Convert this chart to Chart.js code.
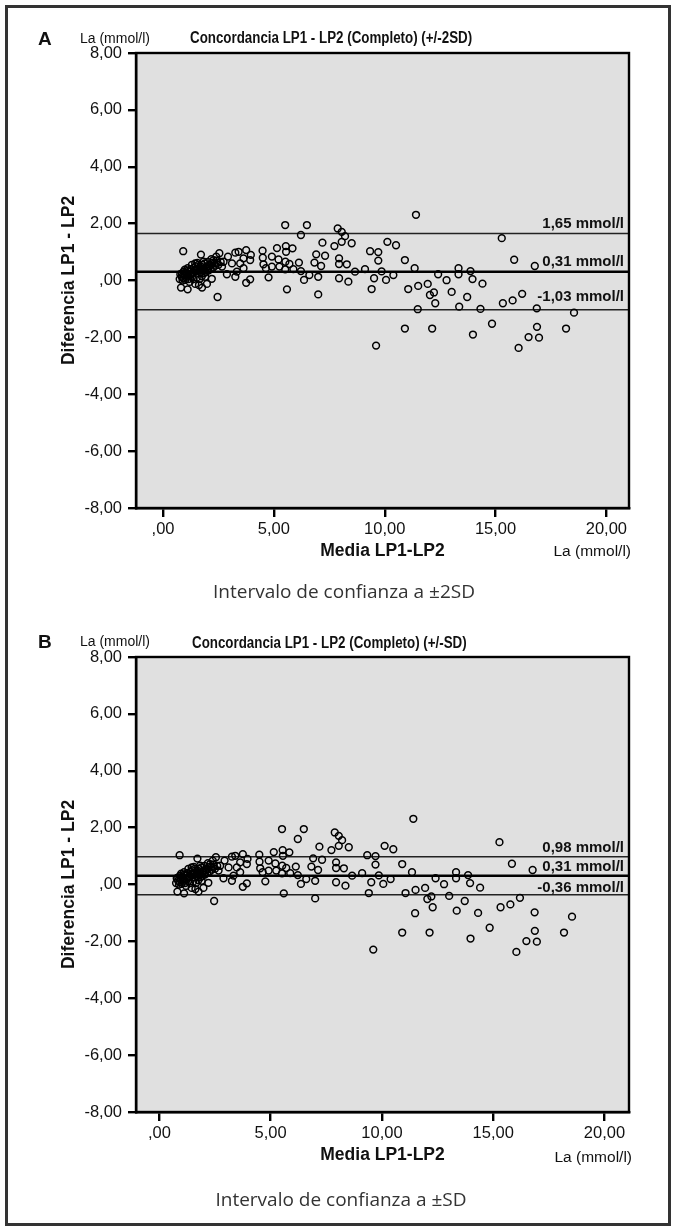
<!DOCTYPE html>
<html>
<head>
<meta charset="utf-8">
<script src="https://cdn.jsdelivr.net/npm/chart.js@4.4.1/dist/chart.umd.min.js"></script>
<style>
html,body{margin:0;padding:0;background:#fff;}
body{width:678px;height:1230px;position:relative;overflow:hidden;font-family:'Liberation Sans',Arial,sans-serif;color:#111;}
.frame{position:absolute;left:5px;top:5px;width:660px;height:1215px;border:3px solid #333;}
canvas{position:absolute;left:0;}
.t{position:absolute;white-space:nowrap;line-height:1;}
.ttl{font-size:16px;font-weight:bold;transform:scaleX(0.834);transform-origin:0 50%;}
.cap{font-family:'Open Sans',sans-serif;font-size:19px;color:#333;transform:translateX(-50%);}
</style>
</head>
<body>
<div class="frame"></div>
<canvas id="cA" width="678" height="600" style="top:0;width:678px;height:600px"></canvas>
<canvas id="cB" width="678" height="600" style="top:604px;width:678px;height:600px"></canvas>

<div class="t" style="left:38px;top:29px;font-weight:bold;font-size:19px">A</div>
<div class="t" style="left:80px;top:31px;font-size:14px">La (mmol/l)</div>
<div class="t ttl" style="left:190px;top:30px">Concordancia LP1 - LP2 (Completo) (+/-2SD)</div>
<div class="t" style="right:47px;top:543px;font-size:15.5px">La (mmol/l)</div>
<div class="t cap" style="left:344px;top:582px">Intervalo de confianza a ±2SD</div>

<div class="t" style="left:38px;top:632px;font-weight:bold;font-size:19px">B</div>
<div class="t" style="left:80px;top:634px;font-size:14px">La (mmol/l)</div>
<div class="t ttl" style="left:192px;top:635px">Concordancia LP1 - LP2 (Completo) (+/-SD)</div>
<div class="t" style="right:46px;top:1149px;font-size:15.5px">La (mmol/l)</div>
<div class="t cap" style="left:341px;top:1190px">Intervalo de confianza a ±SD</div>

<script>
// ---- data ----
const mediaLP1LP2 = [
0.91,0.81,1.11,0.84,0.93,1.11,1.00,1.23,1.45,1.45,
1.71,1.76,1.62,1.68,1.83,1.98,2.20,1.90,1.98,2.28,
2.40,2.54,2.46,2.66,2.73,2.88,2.93,3.11,3.26,3.41,
3.26,3.33,3.48,3.63,3.75,3.96,3.93,3.75,3.93,3.63,
0.75,0.78,0.88,0.95,1.02,1.05,1.15,1.18,1.25,1.30,
1.35,1.40,1.50,1.52,1.58,1.62,1.70,1.75,1.80,1.88,
1.92,2.02,2.05,2.12,2.18,2.25,2.32,2.42,2.50,2.60,
1.30,1.55,0.98,1.20,1.65,
0.85,0.92,1.08,1.12,1.28,1.38,1.42,1.48,1.60,1.72,
1.78,1.85,1.95,2.08,2.15,2.22,2.35,2.45,
4.49,4.50,4.53,4.64,4.76,4.91,4.91,5.14,5.21,5.25,
5.51,5.54,5.55,5.52,5.51,5.59,5.70,5.84,5.88,6.13,
6.22,6.22,6.36,6.49,6.60,6.83,6.91,7.00,7.00,7.13,
7.19,7.31,7.73,7.88,8.06,8.21,8.06,7.94,7.94,8.29,
7.94,8.36,8.51,8.66,9.11,9.34,9.71,9.71,9.86,9.52,
9.41,10.06,10.12,
11.41,10.51,10.39,10.91,11.35,11.06,11.51,11.94,12.04,12.22,
12.28,11.49,12.41,12.79,13.02,13.33,13.33,13.36,13.72,13.87,
13.96,14.41,14.32,15.28,15.84,16.77,15.33,15.77,16.20,16.86,
18.54,9.61,10.91,12.14,13.98,14.84,16.87,16.49,16.96,16.04,
18.18
];
const diferenciaLP1LP2 = [
1.03,-0.25,-0.31,0.13,0.31,0.43,0.02,0.19,-0.12,0.60,
0.91,-0.25,-0.16,0.37,0.66,-0.12,0.06,0.13,0.49,0.72,
0.84,0.96,-0.58,0.49,0.66,0.22,0.84,0.60,0.98,1.01,
0.13,0.31,0.60,0.78,1.07,0.90,0.72,-0.08,0.04,0.43,
0.05,0.22,0.00,0.18,0.28,0.10,0.05,0.30,0.40,0.12,
0.28,0.45,0.35,0.10,0.55,0.25,0.50,0.15,0.40,0.60,
0.30,0.65,0.35,0.55,0.75,0.45,0.60,0.70,0.55,0.65,
0.55,0.62,0.38,-0.05,0.05,
0.25,0.08,0.20,0.35,0.25,0.05,0.35,0.50,0.42,0.30,
0.55,0.25,0.45,0.50,0.40,0.62,0.52,0.62,
1.05,0.80,0.57,0.43,0.11,0.84,0.49,1.14,0.74,0.49,
1.95,1.21,1.01,0.66,0.39,-0.31,0.58,1.13,0.40,0.63,
1.60,0.33,0.02,1.95,0.19,0.63,0.92,0.13,-0.49,0.51,
1.33,0.87,1.21,1.83,1.71,1.56,1.36,0.78,0.58,0.57,
0.08,-0.04,1.31,0.31,0.40,1.03,1.00,0.70,0.32,0.08,
-0.30,0.02,1.36,
2.31,1.24,0.19,0.72,0.43,-0.30,-0.19,-0.12,-0.51,-0.42,
-0.80,-1.01,0.22,0.01,-0.40,0.43,0.22,-0.92,-0.58,0.33,
0.05,-0.11,-1.00,1.49,0.73,0.51,-0.80,-0.70,-0.47,-0.98,
-1.13,-2.29,-1.69,-1.69,-1.90,-1.52,-1.63,-1.99,-2.01,-2.37,
-1.69
];
const xTicks = [0, 5, 10, 15, 20];
const xTickLabels = [',00', '5,00', '10,00', '15,00', '20,00'];
const yTicks = [-8, -6, -4, -2, 0, 2, 4, 6, 8];
const yTickLabels = ['-8,00', '-6,00', '-4,00', '-2,00', ',00', '2,00', '4,00', '6,00', '8,00'];
const linesA = [1.65, 0.31, -1.03];
const linesALabels = ['1,65 mmol/l', '0,31 mmol/l', '-1,03 mmol/l'];
const linesB = [0.98, 0.31, -0.36];
const linesBLabels = ['0,98 mmol/l', '0,31 mmol/l', '-0,36 mmol/l'];

// ---- rendering ----
const FAM = "'Liberation Sans', Arial, sans-serif";
const points = mediaLP1LP2.map((x, i) => ({x, y: diferenciaLP1LP2[i]}));

const decor = {
  id: 'decor',
  beforeDraw(chart) {
    const {ctx, chartArea: a} = chart;
    ctx.save();
    ctx.fillStyle = '#e0e0e0';
    ctx.fillRect(a.left, a.top, a.right - a.left, a.bottom - a.top);
    ctx.restore();
  },
  afterDatasetsDraw(chart, args, o) {
    const {ctx, chartArea: a, scales} = chart;
    ctx.save();
    ctx.strokeStyle = '#000';
    ctx.lineWidth = 2.4;
    ctx.strokeRect(a.left, a.top, a.right - a.left, a.bottom - a.top);
    ctx.font = 'bold 15px ' + FAM;
    ctx.fillStyle = '#111';
    ctx.textAlign = 'right';
    ctx.textBaseline = 'middle';
    o.values.forEach((v, i) => {
      ctx.fillText(o.labels[i], a.right - 5, scales.y.getPixelForValue(v) + o.offsets[i]);
    });
    ctx.restore();
  }
};

function makeChart(id, xMin, xMax, lines, labels, offsets) {
  const lineSets = lines.map((v, i) => ({
    type: 'line',
    data: [{x: xMin, y: v}, {x: xMax, y: v}],
    borderColor: i === 1 ? '#000' : '#222',
    borderWidth: i === 1 ? 2.6 : 1.5,
    pointRadius: 0,
    fill: false,
    order: 1
  }));
  return new Chart(document.getElementById(id), {
    type: 'scatter',
    data: {
      datasets: [{
        data: points,
        pointRadius: 3.4,
        pointBorderWidth: 1.5,
        pointBorderColor: '#000',
        pointBackgroundColor: 'rgba(0,0,0,0)',
        order: 0
      }, ...lineSets]
    },
    options: {
      responsive: false,
      animation: false,
      devicePixelRatio: 1,
      events: [],
      layout: {padding: {top: 53, right: 49, left: 0, bottom: 0}},
      plugins: {
        legend: {display: false},
        tooltip: {enabled: false},
        decor: {values: lines, labels: labels, offsets: offsets}
      },
      scales: {
        x: {
          type: 'linear', min: xMin, max: xMax,
          afterBuildTicks: s => { s.ticks = xTicks.map(v => ({value: v})); },
          afterFit: s => { s.height = 92; },
          grid: {drawOnChartArea: false, drawTicks: true, tickLength: 9, lineWidth: 2.4, tickWidth: 2.4, tickColor: '#000'},
          border: {display: true, color: '#000', width: 2.4},
          ticks: {callback: (v, i) => xTickLabels[i], font: {family: FAM, size: 16.5}, color: '#111', padding: 3, maxRotation: 0, autoSkip: false},
          title: {display: true, text: 'Media LP1-LP2', font: {family: FAM, size: 17.5, weight: 'bold'}, color: '#111', padding: {top: 0, bottom: 38}}
        },
        y: {
          type: 'linear', min: -8, max: 8,
          afterBuildTicks: s => { s.ticks = yTicks.map(v => ({value: v})); },
          afterFit: s => { s.width = 136; },
          grid: {drawOnChartArea: false, drawTicks: true, tickLength: 8, lineWidth: 2.4, tickWidth: 2.4, tickColor: '#000'},
          border: {display: true, color: '#000', width: 2.4},
          ticks: {callback: (v, i) => yTickLabels[i], font: {family: FAM, size: 16.5}, color: '#111', padding: 6, autoSkip: false},
          title: {display: true, text: 'Diferencia LP1 - LP2', font: {family: FAM, size: 17.5, weight: 'bold'}, color: '#111', padding: {top: 59, bottom: 0}}
        }
      }
    },
    plugins: [decor]
  });
}

makeChart('cA', -1.22, 21.02, linesA, linesALabels, [-10, -10, -13]);
makeChart('cB', -1.05, 21.1, linesB, linesBLabels, [-9, -9, -7]);
</script>
</body>
</html>
